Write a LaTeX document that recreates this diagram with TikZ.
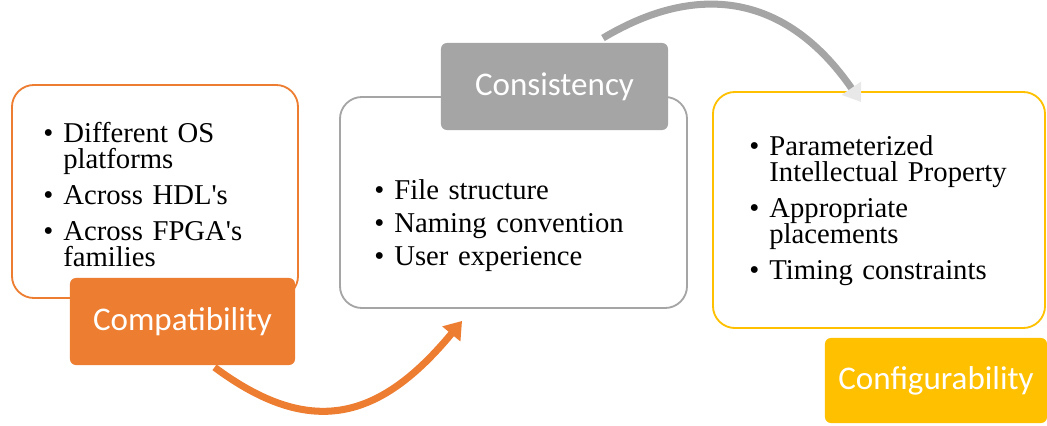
\documentclass[tikz,border=0pt]{standalone}
\usepackage{fontspec}
\setmainfont{Liberation Serif}
\newfontfamily\labelfont{Carlito}
\usepackage{enumitem}
\usetikzlibrary{arrows.meta,calc}
\definecolor{compatorange}{HTML}{ED7D31}
\definecolor{consgray}{HTML}{A5A5A5}
\definecolor{configyellow}{HTML}{FFC000}
\setlist[itemize]{label=\textbullet, leftmargin=15pt, labelsep=7pt, topsep=0pt, partopsep=0pt, parsep=0pt, itemsep=7.2pt}

\begin{document}
\begin{tikzpicture}[x=0.025cm, y=-0.025cm,
	outlinebox/.style={draw, line width=1.3pt, rounded corners=0.55cm, fill=white},
	labelbox/.style={fill, rounded corners=0.15cm, text=white, font=\labelfont\fontsize{23.5}{28}\selectfont},
	bulletlist/.style={anchor=north west, inner sep=0pt, font=\fontsize{20.4}{18.5}\selectfont},
	flowarrow/.style={line width=5pt, -{Triangle[length=12pt, width=16pt]}}]
			%%%%% START %%%%%
			\useasboundingbox (0, 0) rectangle (1047, 426);
			
			% outline boxes
			\node[outlinebox, draw=compatorange, minimum width=7.15cm, minimum height=5.325cm] (compatbox) at (155, 191.5) {};
			\node[outlinebox, draw=consgray, minimum width=8.675cm, minimum height=5.275cm] (consbox) at (513.5, 202.5) {};
			\node[outlinebox, draw=configyellow, minimum width=8.3cm, minimum height=5.9cm] (configbox) at (879, 210) {};
			
			% top arrow
			\draw[flowarrow, consgray, -{Triangle[length=12pt, width=16pt, color=consgray!25]}]
				($(consbox.north east)+(-85, -58)$) .. controls (700, -20) and (788, -4) .. ($(configbox.north west)+(149, 11)$);
			
			% lists
			\node[bulletlist, text width=6.5cm] (compatlist) at (42, 116) {
				\begin{itemize}
					\item Different OS\newline platforms
					\item Across HDL\textquotesingle s
					\item Across FPGA\textquotesingle s\newline families
				\end{itemize}};
			\node[bulletlist, text width=7cm] (conslist) at (373, 173) {
				\begin{itemize}[itemsep=5pt]
					\item File structure
					\item Naming convention
					\item User experience
				\end{itemize}};
			\node[bulletlist, text width=6.5cm] (configlist) at (748, 129) {
				\begin{itemize}
					\item Parameterized\newline Intellectual Property
					\item Appropriate\newline placements
					\item Timing constraints
				\end{itemize}};
			
			% labels
			\node[labelbox, fill=compatorange, minimum width=5.625cm, minimum height=2.175cm] (compat) at (182.5, 321.5) {Compatibility};
			\node[labelbox, fill=consgray, minimum width=5.675cm, minimum height=2.175cm] (cons) at (554.5, 86.5) {Consistency};
			\node[labelbox, fill=configyellow, minimum width=5.55cm, minimum height=2.125cm] (config) at (936, 380.5) {Configurability};
			
			% bottom arrow
			\draw[flowarrow, compatorange]
				($(compat.south)+(32, 2)$) .. controls (311, 439) and (380, 420) .. ($(consbox.south west)+(123, 12)$);
			
			%%%%% END %%%%%
\end{tikzpicture}
\end{document}
